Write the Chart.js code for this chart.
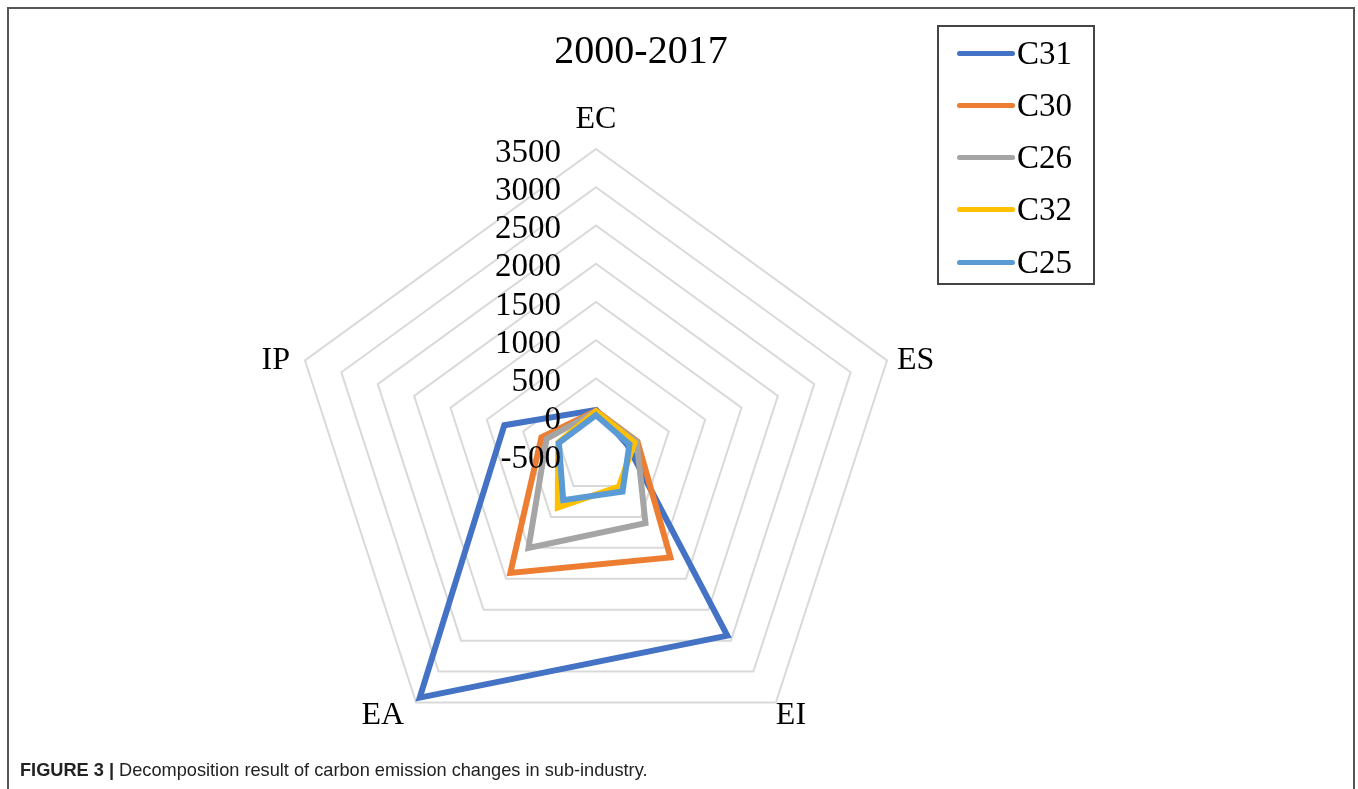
<!DOCTYPE html>
<html>
<head>
<meta charset="utf-8">
<script src="https://cdn.jsdelivr.net/npm/chart.js@4/dist/chart.umd.min.js"></script>
<style>
  html, body { margin: 0; padding: 0; background: #fff; }
  #wrap { position: relative; width: 1358px; height: 789px; overflow: hidden; }
  #frame { position: absolute; left: 7px; top: 7px; width: 1348px; height: 800px; border: 2px solid #555; border-bottom: none; box-sizing: border-box; }
  #title { position: absolute; left: 541px; top: 26px; width: 200px; text-align: center; font: 40px "Liberation Serif", serif; color: #000; }
  #legend { position: absolute; left: 937px; top: 25px; width: 158px; height: 260px; border: 2px solid #444; box-sizing: border-box; }
  .leg { position: absolute; left: 18px; height: 36px; display: flex; align-items: center; font: 33px "Liberation Serif", serif; color: #000; }
  .leg i { display: inline-block; width: 58px; height: 5px; border-radius: 3px; margin-right: 2px; }
  #caption { position: absolute; left: 20px; top: 760px; font: 18.2px "Liberation Sans", Arial, sans-serif; color: #222; white-space: nowrap; }
  #caption b { font-weight: bold; }
  canvas { position: absolute; left: 0; top: 0; }
</style>
</head>
<body>
<div id="wrap">
  <div id="frame"></div>
  <canvas id="chart" width="1358" height="789"></canvas>
  <div id="title">2000-2017</div>
  <div id="legend"></div>
  <div id="caption"><b>FIGURE 3 |</b> Decomposition result of carbon emission changes in sub-industry.</div>
</div>
<script>
// axes (clockwise from top) and ticks
const axes = ['EC', 'ES', 'EI', 'EA', 'IP'];
const tickValues = [-500, 0, 500, 1000, 1500, 2000, 2500, 3000, 3500];

// series
const seriesNames = ['C31', 'C30', 'C26', 'C32', 'C25'];
const seriesColors = ['#4472C4', '#ED7D31', '#A5A5A5', '#FFC000', '#5B9BD5'];
const c31 = [90, -70, 2420, 3420, 760];
const c30 = [80, 70, 1155, 1405, 250];
const c26 = [70, 60, 600, 1000, 180];
const c32 = [70, 30, 10, 350, 20];
const c25 = [20, -40, 90, 230, 10];
const seriesData = [c31, c30, c26, c32, c25];

const SERIF = '"Liberation Serif", "Times New Roman", serif';

// legend box
const legend = document.getElementById('legend');
seriesNames.forEach((n, i) => {
  const d = document.createElement('div');
  d.className = 'leg';
  d.style.top = (8 + i * 52.3) + 'px';
  d.innerHTML = `<i style="background:${seriesColors[i]}"></i>${n}`;
  legend.appendChild(d);
});

// excel-style labels: axis names outside, tick values left of the top spoke
const labelsPlugin = {
  id: 'excelLabels',
  afterDraw(chart) {
    const s = chart.scales.r;
    const ctx = chart.ctx;
    ctx.save();
    ctx.fillStyle = '#000';
    ctx.font = '33px ' + SERIF;
    // tick labels
    ctx.textAlign = 'right';
    ctx.textBaseline = 'middle';
    tickValues.forEach(v => {
      const p = s.getPointPositionForValue(0, v);
      ctx.fillText(String(v), p.x - 35, p.y + 4);
    });
    // point labels
    ctx.font = '32px ' + SERIF;
    const outer = s.drawingArea;
    const off = [
      { dx: 0, dy: -29, a: 'center' },
      { dx: 10, dy: 0, a: 'left' },
      { dx: 0, dy: 13, a: 'left' },
      { dx: -12, dy: 13, a: 'right' },
      { dx: -15, dy: 0, a: 'right' }
    ];
    axes.forEach((name, i) => {
      const p = s.getPointPosition(i, outer);
      ctx.textAlign = off[i].a;
      ctx.fillText(name, p.x + off[i].dx, p.y + off[i].dy);
    });
    ctx.restore();
  }
};

new Chart(document.getElementById('chart'), {
  type: 'radar',
  data: {
    labels: axes,
    datasets: seriesData.map((d, i) => ({
      label: seriesNames[i],
      data: d,
      borderColor: seriesColors[i],
      backgroundColor: 'transparent',
      borderWidth: 6,
      pointRadius: 0,
      fill: false,
      tension: 0,
      order: seriesData.length - i
    }))
  },
  options: {
    responsive: false,
    animation: false,
    layout: { padding: { left: 290, top: 149, right: 456, bottom: 28 } },
    plugins: { legend: { display: false }, tooltip: { enabled: false } },
    elements: { line: { borderJoinStyle: 'miter' } },
    scales: {
      r: {
        min: -500, max: 3500,
        ticks: { stepSize: 500, display: false },
        pointLabels: { display: false },
        angleLines: { display: false },
        grid: { color: '#d9d9d9', lineWidth: 2 }
      }
    }
  },
  plugins: [labelsPlugin]
});
</script>
</body>
</html>
